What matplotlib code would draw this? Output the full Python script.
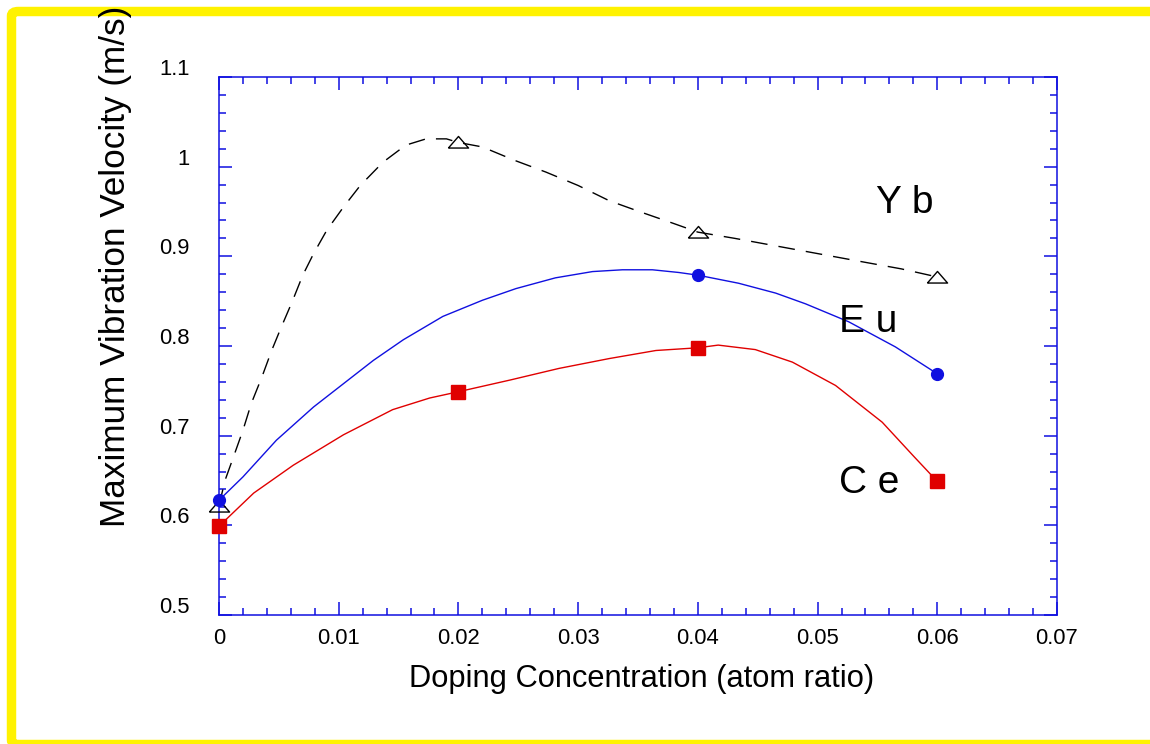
import numpy as np
import matplotlib
matplotlib.use("Agg")
import matplotlib.pyplot as plt
from matplotlib.patches import FancyBboxPatch
from matplotlib.transforms import ScaledTranslation
from matplotlib.ticker import MultipleLocator, FuncFormatter

plt.rcParams["font.family"] = ["Liberation Sans", "DejaVu Sans"]

# measured points (doping concentration, atom ratio)
conc = [0.0, 0.02, 0.04, 0.06]
ce_v = [0.599, 0.749, 0.798, 0.649]
yb_v = [0.622, 1.027, 0.927, 0.877]
eu_conc = [0.0, 0.04, 0.06]
eu_v = [0.628, 0.879, 0.769]

# smoothed curves
yb_cx = [0.0, 0.0005, 0.0012, 0.0020, 0.0027, 0.0036, 0.0044, 0.0052, 0.0061, 0.0070,
         0.0079, 0.0090, 0.0104, 0.0118, 0.0137, 0.0156, 0.0173, 0.0190, 0.0200,
         0.0220, 0.0247, 0.0273, 0.0300, 0.0326, 0.0351, 0.0379, 0.0400, 0.0431,
         0.0484, 0.0537, 0.0570, 0.0600]
yb_cy = [0.622, 0.650, 0.676, 0.706, 0.736, 0.766, 0.795, 0.821, 0.849, 0.879,
         0.903, 0.929, 0.955, 0.979, 1.005, 1.024, 1.031, 1.031, 1.027,
         1.022, 1.007, 0.994, 0.979, 0.962, 0.950, 0.937, 0.927, 0.920,
         0.907, 0.894, 0.886, 0.877]
eu_cx = [0.0, 0.0020, 0.0048, 0.0079, 0.0104, 0.0129, 0.0154, 0.0187, 0.0220, 0.0248,
         0.0281, 0.0312, 0.0337, 0.0362, 0.0384, 0.0400, 0.0434, 0.0465, 0.0490,
         0.0526, 0.0565, 0.0600]
eu_cy = [0.628, 0.654, 0.695, 0.732, 0.758, 0.784, 0.807, 0.833, 0.851, 0.864,
         0.876, 0.883, 0.885, 0.885, 0.882, 0.879, 0.870, 0.859, 0.847,
         0.827, 0.799, 0.769]
ce_cx = [0.0, 0.0029, 0.0062, 0.0104, 0.0145, 0.0176, 0.0200, 0.0243, 0.0284, 0.0326,
         0.0365, 0.0400, 0.0417, 0.0448, 0.0479, 0.0515, 0.0554, 0.0581, 0.0600]
ce_cy = [0.599, 0.636, 0.667, 0.701, 0.729, 0.742, 0.749, 0.762, 0.775, 0.786,
         0.795, 0.798, 0.801, 0.796, 0.782, 0.756, 0.715, 0.676, 0.649]

W, H = 1150, 744
fig = plt.figure(figsize=(W / 100, H / 100), dpi=100)
ax = fig.add_axes([219 / W, 1 - 615 / H, 838 / W, 538 / H])

BLUE = "#1010e0"
RED = "#e00000"

ax.plot(yb_cx, yb_cy, color="black", lw=1.0, dashes=(12, 8), clip_on=False)
ax.plot(eu_cx, eu_cy, color=BLUE, lw=1.0, clip_on=False)
ax.plot(ce_cx, ce_cy, color=RED, lw=1.0, clip_on=False)

tri = [(-1, -0.55), (1, -0.55), (0, 0.6), (-1, -0.55)]
ax.plot(conc, yb_v, ls="none", marker=tri, ms=14.5, mfc="none", mec="black",
        mew=1.0, clip_on=False, zorder=4)
ax.plot(eu_conc, eu_v, ls="none", marker="o", ms=8.5, color=BLUE, clip_on=False, zorder=4)
ax.plot(conc, ce_v, ls="none", marker="s", ms=9.5, color=RED, clip_on=False, zorder=4)

ax.set_xlim(0, 0.07)
ax.set_ylim(0.5, 1.1)
ax.xaxis.set_major_locator(MultipleLocator(0.01))
ax.xaxis.set_minor_locator(MultipleLocator(0.002))
ax.yaxis.set_major_locator(MultipleLocator(0.1))
ax.yaxis.set_minor_locator(MultipleLocator(0.02))
ax.xaxis.set_major_formatter(FuncFormatter(lambda v, p: f"{round(v, 4):g}"))
ax.yaxis.set_major_formatter(FuncFormatter(lambda v, p: f"{round(v, 4):g}"))

for s in ax.spines.values():
    s.set_color(BLUE)
    s.set_linewidth(1.1)
ax.tick_params(which="both", direction="in", top=True, right=True, color=BLUE,
               width=1.1, labelsize=15.8, labelcolor="black")
ax.tick_params(which="major", length=9.5)
ax.tick_params(which="minor", length=5)
ax.tick_params(axis="x", which="major", pad=9)
ax.tick_params(axis="y", which="major", pad=21)

# the original's tick labels sit a little off their ticks
up = ScaledTranslation(0, 10 / 100, fig.dpi_scale_trans)
for lbl in ax.get_yticklabels():
    lbl.set_transform(lbl.get_transform() + up)
xl = ax.get_xticklabels()
xl[0].set_transform(xl[0].get_transform() + ScaledTranslation(9 / 100, 0, fig.dpi_scale_trans))

ax.text(0.05489, 0.948, "Y b", fontsize=28, ha="left", va="baseline")
ax.text(0.05181, 0.816, "E u", fontsize=28, ha="left", va="baseline")
ax.text(0.05175, 0.6357, "C e", fontsize=28, ha="left", va="baseline")

fig.text(642 / W, 1 - 686.5 / H, "Doping Concentration (atom ratio)", fontsize=22.2,
         ha="center", va="baseline")
fig.text(116 / W, 1 - 266.5 / H, "Maximum Vibration Velocity (m/s)", fontsize=25.3,
         rotation=90, ha="center", va="center", zorder=5)

frame = FancyBboxPatch((11.5 / W, 1 - 744.5 / H), 1.2, (744.5 - 11.5) / H,
                       boxstyle="round,pad=0,rounding_size=0.006",
                       transform=fig.transFigure, fill=False, edgecolor="#fff200",
                       lw=6.8, zorder=0)
fig.add_artist(frame)

fig.savefig("out.png", dpi=100)
